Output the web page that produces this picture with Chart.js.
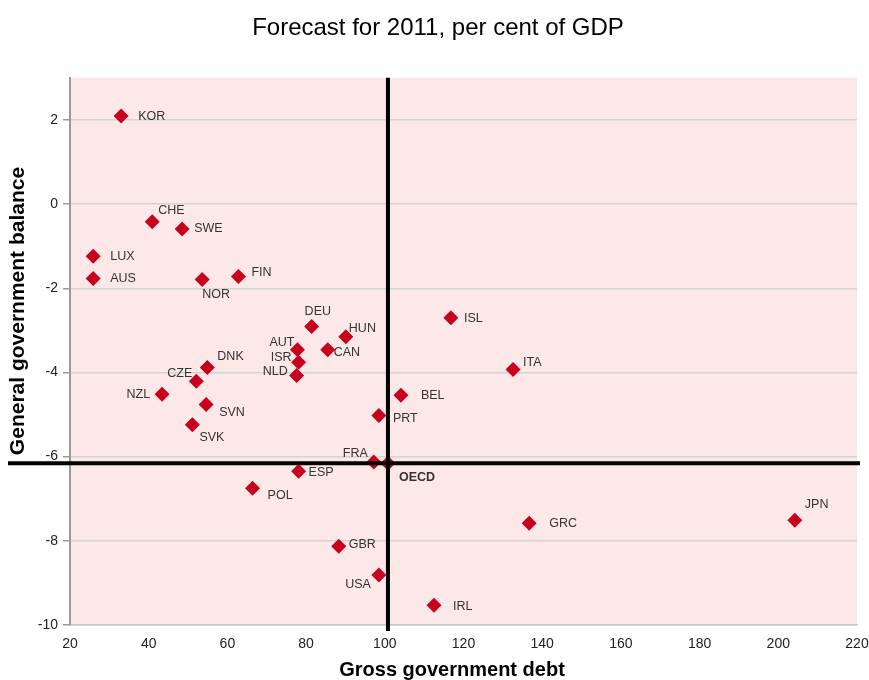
<!DOCTYPE html>
<html>
<head>
<meta charset="utf-8">
<style>
  body { margin: 0; background: #fff; }
  #wrap { width: 869px; height: 680px; }
</style>
</head>
<body>
<div id="wrap"><canvas id="myChart" width="869" height="680"></canvas></div>

<script src="https://cdn.jsdelivr.net/npm/chart.js/dist/chart.umd.min.js"></script>
<script>
// data
const countries = ['KOR','CHE','SWE','LUX','AUS','NOR','FIN','DEU','HUN','AUT','CAN','ISR','NLD','DNK','CZE','NZL','SVN','SVK','BEL','PRT','ISL','ITA','FRA','OECD','ESP','POL','GBR','USA','IRL','GRC','JPN'];
const debt    = [33.0, 40.9, 48.5, 25.9, 25.9, 53.6, 62.8, 81.4, 90.1, 77.8, 85.5, 78.1, 77.6, 54.9, 52.1, 43.4, 54.6, 51.1, 104.1, 98.5, 116.8, 132.6, 97.2, 100.8, 78.1, 66.4, 88.3, 98.5, 112.5, 136.7, 204.2];
const balance = [2.09, -0.42, -0.59, -1.24, -1.77, -1.79, -1.72, -2.91, -3.15, -3.46, -3.46, -3.76, -4.07, -3.88, -4.21, -4.52, -4.76, -5.24, -4.54, -5.02, -2.70, -3.93, -6.13, -6.16, -6.35, -6.75, -8.13, -8.81, -9.53, -7.58, -7.51];
const xTicks = [20, 40, 60, 80, 100, 120, 140, 160, 180, 200, 220];
const yTicks = [-10, -8, -6, -4, -2, 0, 2];
const xTitle = 'Gross government debt';
const yTitle = 'General government balance';

// where each label sits relative to its marker: [dx, dy, align]
const labelPlace = {
  KOR:[17,0,'left'], CHE:[6,-11,'left'], SWE:[12,0,'left'], LUX:[17,0,'left'], AUS:[17,0,'left'],
  NOR:[0,15,'left'], FIN:[13,-4,'left'], DEU:[-7,-15,'left'], HUN:[3,-8,'left'], AUT:[-3,-7,'right'],
  CAN:[6,3,'left'], ISR:[-7,-5,'right'], NLD:[-9,-4,'right'], DNK:[10,-11,'left'], CZE:[-4,-8,'right'],
  NZL:[-12,0,'right'], SVN:[13,8,'left'], SVK:[7,13,'left'], BEL:[20,0,'left'], PRT:[14,3,'left'],
  ISL:[13,1,'left'], ITA:[10,-7,'left'], FRA:[-6,-9,'right'], OECD:[11,14,'left'], ESP:[10,1,'left'],
  POL:[15,7,'left'], GBR:[10,-2,'left'], USA:[-8,10,'right'], IRL:[19,1,'left'], GRC:[20,0,'left'],
  JPN:[10,-16,'left']
};

const FONT = '"Liberation Sans", Arial, sans-serif';
const points = countries.map((c, i) => ({ x: debt[i], y: balance[i] }));
const oecdIdx = countries.indexOf('OECD');

// pink plot background
const plotBg = {
  id: 'plotBg',
  beforeDraw(chart) {
    const { ctx, chartArea: a } = chart;
    ctx.save();
    ctx.fillStyle = '#fde8e8';
    ctx.fillRect(a.left, a.top, a.right - a.left, a.bottom - a.top);
    ctx.restore();
  }
};

// black OECD average cross, country labels, axis titles
const oecdCross = {
  id: 'oecdCross',
  afterDatasetsDraw(chart) {
    const { ctx, chartArea: a, scales: { x, y } } = chart;
    const px = x.getPixelForValue(debt[oecdIdx]);
    const py = y.getPixelForValue(balance[oecdIdx]);
    ctx.save();
    ctx.strokeStyle = '#000';
    ctx.lineWidth = 4;
    ctx.beginPath();
    ctx.moveTo(px, a.top);
    ctx.lineTo(px, a.bottom + 6);
    ctx.moveTo(8, py);
    ctx.lineTo(a.right + 3, py);
    ctx.stroke();

    ctx.fillStyle = '#333';
    ctx.textBaseline = 'middle';
    chart.getDatasetMeta(0).data.forEach((pt, i) => {
      const name = countries[i];
      const p = labelPlace[name] || [10, 0, 'left'];
      ctx.font = (name === 'OECD' ? 'bold ' : '') + '12.5px ' + FONT;
      ctx.textAlign = p[2];
      ctx.fillText(name, pt.x + p[0], pt.y + p[1]);
    });

    // axis titles
    ctx.fillStyle = '#000';
    ctx.textAlign = 'center';
    ctx.font = 'bold 20px ' + FONT;
    ctx.fillText(xTitle, 452, 670);
    ctx.translate(18, 311);
    ctx.rotate(-Math.PI / 2);
    ctx.font = 'bold 21px ' + FONT;
    ctx.fillText(yTitle, 0, 0);
    ctx.restore();
  }
};

const config = {
  type: 'scatter',
  data: {
    datasets: [{
      data: points,
      pointStyle: 'rectRot',
      pointRadius: 7.5,
      pointHoverRadius: 7.5,
      backgroundColor: '#c8001e',
      borderColor: '#c8001e',
      borderWidth: 0
    }]
  },
  options: {
    responsive: false,
    animation: false,
    layout: { padding: { left: 19, right: 12, top: 0, bottom: 0 } },
    plugins: {
      legend: { display: false },
      tooltip: { enabled: false },
      title: {
        display: true,
        text: 'Forecast for 2011, per cent of GDP',
        color: '#000',
        font: { family: FONT, size: 24, weight: 'normal' },
        padding: { top: 14, bottom: 35 }
      }
    },
    scales: {
      x: {
        type: 'linear',
        min: 20, max: 220,
        afterBuildTicks: s => { s.ticks = xTicks.map(v => ({ value: v })); },
        afterFit: s => { s.height = 55; s.paddingRight = 0; s.paddingLeft = 0; },
        grid: { display: false, drawTicks: false },
        border: { display: true, color: '#c8c8c8', width: 1.5 },
        ticks: { color: '#222', padding: 11, font: { family: FONT, size: 14 } }
      },
      y: {
        type: 'linear',
        min: -10, max: 3,
        afterBuildTicks: s => { s.ticks = yTicks.map(v => ({ value: v })); },
        afterFit: s => { s.width = 51; },
        grid: { color: '#d4d4d4', lineWidth: 1.5, tickLength: 7, drawTicks: true, tickColor: '#999' },
        border: { display: true, color: '#999', width: 2 },
        ticks: { color: '#222', padding: 5, font: { family: FONT, size: 14 } }
      }
    }
  },
  plugins: [plotBg, oecdCross]
};

const myChart = new Chart(document.getElementById('myChart'), config);
</script>
</body>
</html>
